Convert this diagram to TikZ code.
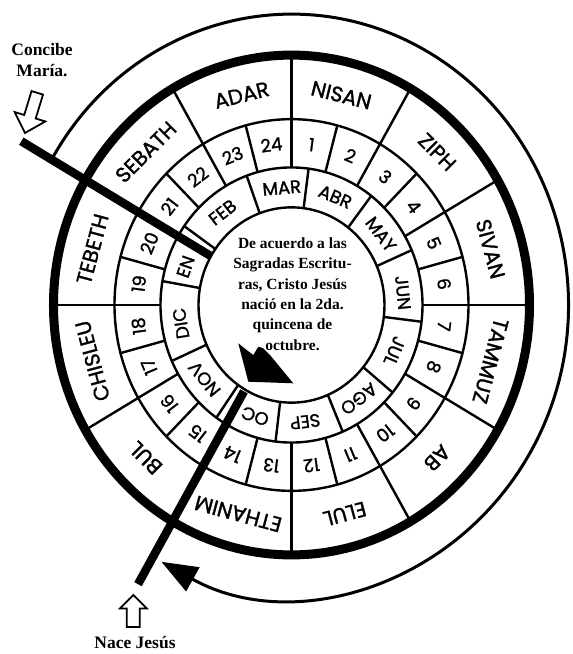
\documentclass[tikz,border=0pt]{standalone}
\usepackage{fontspec}
\setmainfont{Liberation Serif}
\newfontfamily\ringfont{Poppins}[FakeBold=1.3]
\usetikzlibrary{arrows.meta}
\begin{document}
\begin{tikzpicture}[x=1pt,y=1pt,
  heb/.style={font=\ringfont\fontsize{21}{21}\selectfont, inner sep=0pt},
  num/.style={font=\ringfont\fontsize{18}{18}\selectfont, inner sep=0pt},
  spa/.style={font=\ringfont\fontsize{18}{18}\selectfont, inner sep=0pt},
  ringline/.style={line width=2.4pt},
  thickring/.style={line width=9pt},
  bar/.style={line width=8.5pt},
  hollow/.style={draw, line width=1.8pt, fill=white, line join=miter},
  lbl/.style={font=\bfseries\fontsize{17.5}{21}\selectfont, align=center},
]
\useasboundingbox (-291.5,-349) rectangle (281.5,305);
\begin{scope}[yscale=1.05]
  % outer thin arrow circle
  \draw[line width=3pt, -{Triangle[length=36pt,width=27pt]}]
    (150:277) arc[start angle=150, end angle=-118, radius=277];
  % radial lines
  \foreach \a in {0,30,...,330} \draw[ringline] (\a:131) -- (\a:238);
  \foreach \a in {15,45,...,345} \draw[ringline] (\a:131) -- (\a:177);
  \foreach \a in {82.5,52.5,23.5,-7,-39.5,-67,-97,-125,-156,-190,145,110}
    \draw[ringline] (\a:93) -- (\a:131);
  % circles
  \draw[ringline] (0,0) circle[radius=177];
  \draw[ringline] (0,0) circle[radius=131];
  \draw[ringline] (0,0) circle[radius=93];
  \draw[thickring] (0,0) circle[radius=238];
  % Hebrew months
  \foreach \t/\a [count=\i] in {NISAN/76,ZIPH/45,SIVAN/15,TAMMUZ/-15,AB/-45,ELUL/-75,
      ETHANIM/-105,BUL/-135,CHISLEU/-165,TEBETH/165,SEBATH/135,ADAR/104}
    \node[heb, rotate={\a-90}] (heb\i) at (\a:206) {\t};
  % numbers
  \foreach \k in {1,...,24}
    \node[num, rotate={7.5-15*\k}] (num\k) at ({97.5-15*\k}:154) {\k};
  % Spanish months
  \foreach \t/\a [count=\i] in {MAR/95,ABR/67,MAY/37,JUN/6,JUL/-23,AGO/-53,SEP/-83,
      OC/-109,NOV/-141,DIC/-171,EN/161,FEB/128}
    \node[spa, rotate={\a-90}] (spa\i) at (\a:112) {\t};
  % thick bars
  \draw[bar] (150:93) -- (150:312);
  \draw[bar] (240:95) -- (240:307);
\end{scope}
% black arrow blot
\fill (-53.2,-38.3) -- (-44.8,-45) -- (-38.2,-50) -- (-33.2,-41.7) -- (-28.2,-43.3)
  -- (-21.5,-50) -- (1.8,-78.3) -- (-43.2,-76.7) -- cycle;
% centre text
\node[font=\bfseries\fontsize{15.5}{20.4}\selectfont, align=center] (ctext) at (1,11)
  {De acuerdo a las\\Sagradas Escritu-\\ras, Cristo Jesús\\nació en la 2da.\\quincena de\\octubre.};
% hollow arrows
\draw[hollow, shift={(-266.5,172)}, rotate=-17]
  (0,0) -- (-16,17) -- (-6,17) -- (-6,42) -- (6,42) -- (6,17) -- (16,17) -- cycle;
\draw[hollow, shift={(-158.2,-290)}]
  (0,0) -- (-13.5,-13.5) -- (-6.5,-13.5) -- (-6.5,-32) -- (6.5,-32) -- (6.5,-13.5) -- (13.5,-13.5) -- cycle;
% labels
\node[lbl] (concibe) at (-249.5,245) {Concibe\\María.};
\node[lbl] (nace) at (-156.5,-338) {Nace Jesús};
\end{tikzpicture}
\end{document}
